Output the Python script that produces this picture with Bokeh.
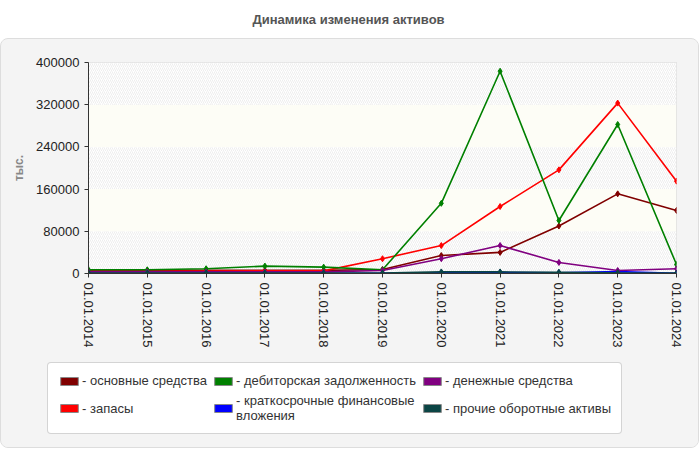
from bokeh.embed import file_html
from bokeh.layouts import column, row
from bokeh.models import (BasicTickFormatter, ColumnDataSource, Div, FixedTicker,
                          Legend, LegendItem, Range1d)
from bokeh.plotting import figure
from bokeh.resources import INLINE

# Data (тыс.)
dates = ["01.01.2014", "01.01.2015", "01.01.2016", "01.01.2017", "01.01.2018", "01.01.2019",
         "01.01.2020", "01.01.2021", "01.01.2022", "01.01.2023", "01.01.2024"]

osnovnye = [6000, 6000, 6000, 6000, 6000, 7500, 34000, 40000, 90000, 151000, 119500]
zapasy = [4000, 4000, 4500, 5000, 5000, 28000, 53000, 127000, 196500, 323000, 175000]
debitor = [7000, 7000, 9000, 14000, 12000, 7000, 133000, 383500, 100500, 282500, 17000]
kratkosroch = [300, 300, 300, 300, 300, 500, 1500, 2000, 1500, 3500, 500]
denezhnye = [3000, 3000, 3000, 3000, 3000, 5700, 28000, 53000, 21000, 5700, 9000]
prochie = [1000, 1000, 1000, 1000, 1000, 1000, 3000, 3000, 2500, 1500, 1000]

series = [
    ("- основные средства", osnovnye, "#800000"),
    ("- запасы", zapasy, "#ff0000"),
    ("- дебиторская задолженность", debitor, "#008000"),
    ("- краткосрочные финансовые\nвложения", kratkosroch, "#0000ff"),
    ("- денежные средства", denezhnye, "#800080"),
    ("- прочие оборотные активы", prochie, "#0b4545"),
]

y_ticks = [0, 80000, 160000, 240000, 320000, 400000]

FONT = "Liberation Sans"
PANEL = "#f4f4f4"

x = list(range(len(dates)))

p = figure(width=697, height=315, output_backend="svg", toolbar_location=None,
           x_range=Range1d(0, len(dates) - 1), y_range=Range1d(y_ticks[0], y_ticks[-1]),
           min_border_left=87, min_border_right=22, min_border_top=23, min_border_bottom=81,
           background_fill_color="white", border_fill_color=PANEL,
           outline_line_color="#dddddd")

# striped background bands
for i in range(len(y_ticks) - 1):
    if i % 2 == 0:
        p.quad(left=x[0], right=x[-1], bottom=y_ticks[i], top=y_ticks[i + 1],
               fill_color="white", line_color=None, hatch_pattern="/",
               hatch_color="#eeeeee", hatch_scale=4, hatch_weight=1)
    else:
        p.quad(left=x[0], right=x[-1], bottom=y_ticks[i], top=y_ticks[i + 1],
               fill_color="#fdfdf6", line_color=None)

for label, vals, color in series:
    src = ColumnDataSource(dict(x=x, y=vals))
    p.line("x", "y", source=src, line_color=color, line_width=1.6)
    p.scatter("x", "y", source=src, marker="diamond", size=6, color=color)

p.xaxis.ticker = FixedTicker(ticks=x)
p.xaxis.major_label_overrides = {i: d for i, d in enumerate(dates)}
p.xaxis.major_label_orientation = "vertical"
p.yaxis.ticker = FixedTicker(ticks=y_ticks)
p.yaxis.formatter = BasicTickFormatter(use_scientific=False)
p.yaxis.axis_label = "тыс."
p.yaxis.axis_label_text_font = FONT
p.yaxis.axis_label_text_font_style = "bold"
p.yaxis.axis_label_text_font_size = "12px"
p.yaxis.axis_label_text_color = "#888888"
p.yaxis.axis_label_standoff = 7

for ax in (p.xaxis, p.yaxis):
    ax.major_label_text_font = FONT
    ax.major_label_text_font_size = "13px"
    ax.major_label_text_color = "#222222"
    ax.axis_line_color = "#333333"
    ax.major_tick_line_color = "#333333"
    ax.major_tick_in = 0
    ax.major_tick_out = 4
    ax.minor_tick_line_color = None

for g in (p.xgrid, p.ygrid):
    g.grid_line_color = "#dddddd"
    g.grid_line_dash = "4 4"

# legend lives in its own strip under the chart
lg = figure(width=697, height=93, output_backend="svg", toolbar_location=None,
            x_axis_type=None, y_axis_type=None,
            x_range=Range1d(0, 1), y_range=Range1d(0, 1), min_border=0,
            background_fill_color=PANEL, border_fill_color=PANEL, outline_line_color=None)
lg.grid.visible = False

items = []
for label, vals, color in series:
    # swatch glyph kept outside the visible range; only its legend entry shows
    sw = lg.quad(left=[2], right=[3], bottom=[2], top=[3], fill_color=color,
                 line_color="#888888")
    items.append(LegendItem(label=label, renderers=[sw]))

legend = Legend(items=items, location=(46, 13), orientation="vertical", nrows=2,
                label_text_font=FONT, label_text_font_size="13px", label_text_color="#333333",
                glyph_width=22, glyph_height=10, label_standoff=2, spacing=5,
                padding=10, margin=0, label_height=13,
                border_line_color="#aaaaaa", background_fill_color="white",
                background_fill_alpha=1)
if "border_radius" in Legend.properties():
    legend.border_radius = 4
lg.add_layout(legend, "center")

title = Div(text="Динамика изменения активов", width=697, height=38, margin=0,
            styles={"font-family": FONT, "font-size": "13px", "font-weight": "bold",
                    "color": "#555555", "text-align": "center", "width": "697px",
                    "line-height": "40px"})

panel = column(p, row(lg, spacing=0), spacing=0,
               styles={"border": "1px solid #dddddd", "border-radius": "8px",
                       "overflow": "hidden", "background-color": PANEL})

layout = column(title, panel, spacing=0)

open("out.html", "w").write(file_html(layout, INLINE))
